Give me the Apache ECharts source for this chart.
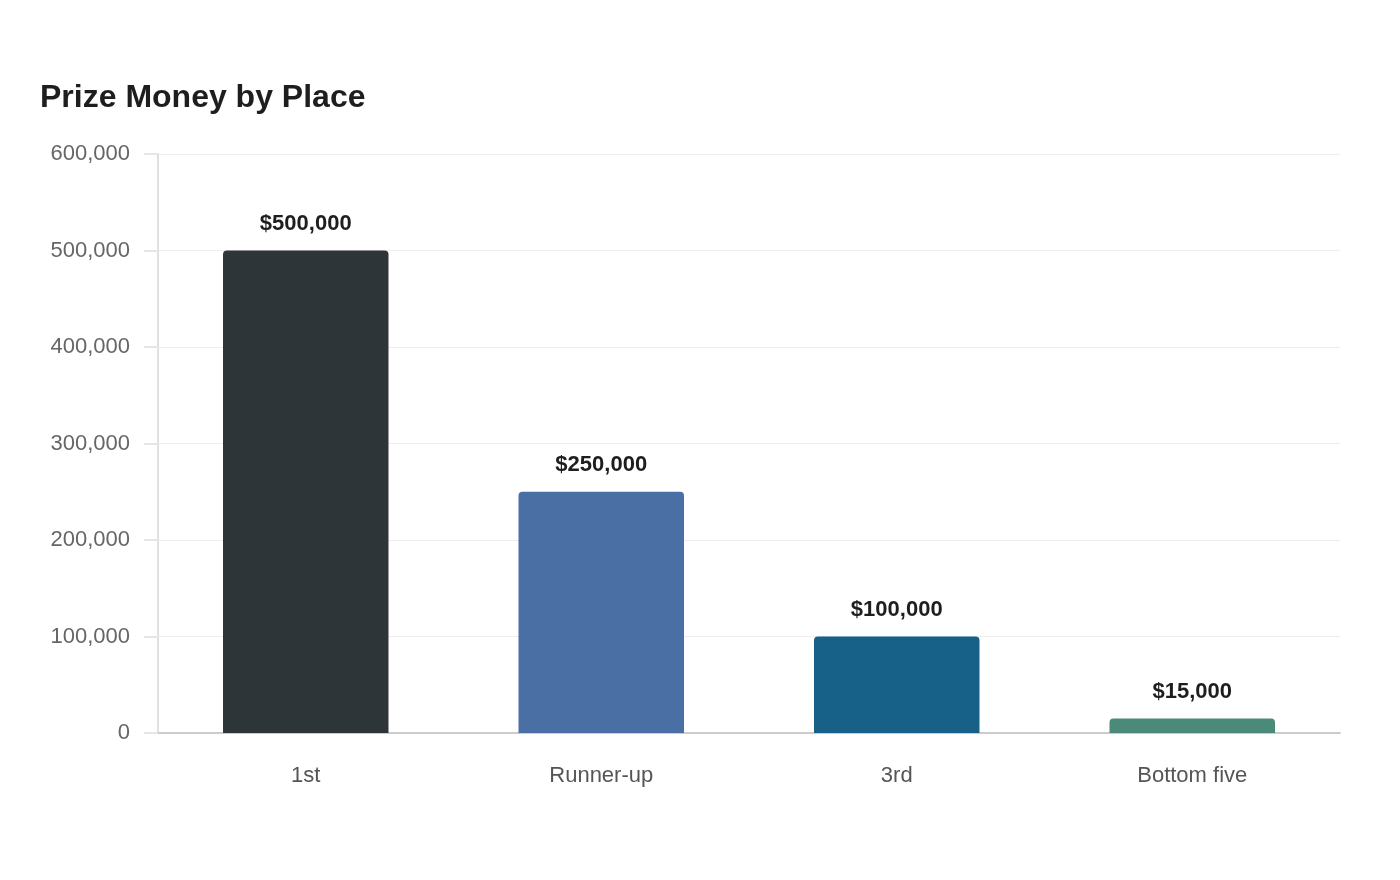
<!DOCTYPE html>
<html>
<head>
<meta charset="utf-8">
<script src="https://cdn.jsdelivr.net/npm/echarts@6/dist/echarts.min.js"></script>
<style>
  html, body { margin: 0; padding: 0; background: #fff; }
  #chart { width: 1400px; height: 880px; }
</style>
</head>
<body>
<div id="chart"></div>
<script>
  const places = ["1st", "Runner-up", "3rd", "Bottom five"];
  const prizes = [500000, 250000, 100000, 15000];
  const barColors = ["#2e3538", "#4a6fa5", "#176087", "#4b8a78"];

  const font = "'Liberation Sans', Arial, sans-serif";

  const chart = echarts.init(document.getElementById("chart"));
  chart.setOption({
    backgroundColor: "#ffffff",
    textStyle: { fontFamily: font },
    title: {
      text: "Prize Money by Place",
      left: 35,
      top: 77,
      textStyle: { fontFamily: font, fontSize: 32, fontWeight: "bold", color: "#1e1e1e" }
    },
    grid: { left: 158, right: 60, top: 154, bottom: 147, containLabel: false },
    xAxis: {
      type: "category",
      data: places,
      axisLine: { lineStyle: { color: "#cccccc", width: 2 } },
      axisTick: { show: false },
      axisLabel: { fontFamily: font, color: "#555555", fontSize: 22, margin: 32 }
    },
    yAxis: {
      type: "value",
      min: 0,
      max: 600000,
      interval: 100000,
      axisLine: { show: true, lineStyle: { color: "#e0e0e0", width: 2 } },
      axisTick: { show: true, length: 14, lineStyle: { color: "#e6e6e6", width: 2 } },
      splitLine: { lineStyle: { color: "#eeeeee", width: 1 } },
      axisLabel: {
        fontFamily: font,
        color: "#666666",
        fontSize: 22,
        margin: 28,
        padding: [4, 0, 0, 0],
        formatter: (v) => v.toLocaleString("en-US")
      }
    },
    series: [{
      type: "bar",
      barWidth: "56%",
      data: prizes.map((v, i) => ({ value: v, itemStyle: { color: barColors[i] } })),
      itemStyle: { borderRadius: [4, 4, 0, 0] },
      label: {
        show: true,
        position: "top",
        distance: 16,
        fontFamily: font,
        color: "#1e1e1e",
        fontSize: 22,
        fontWeight: "bold",
        formatter: (p) => "$" + p.value.toLocaleString("en-US")
      }
    }]
  });
</script>
</body>
</html>
